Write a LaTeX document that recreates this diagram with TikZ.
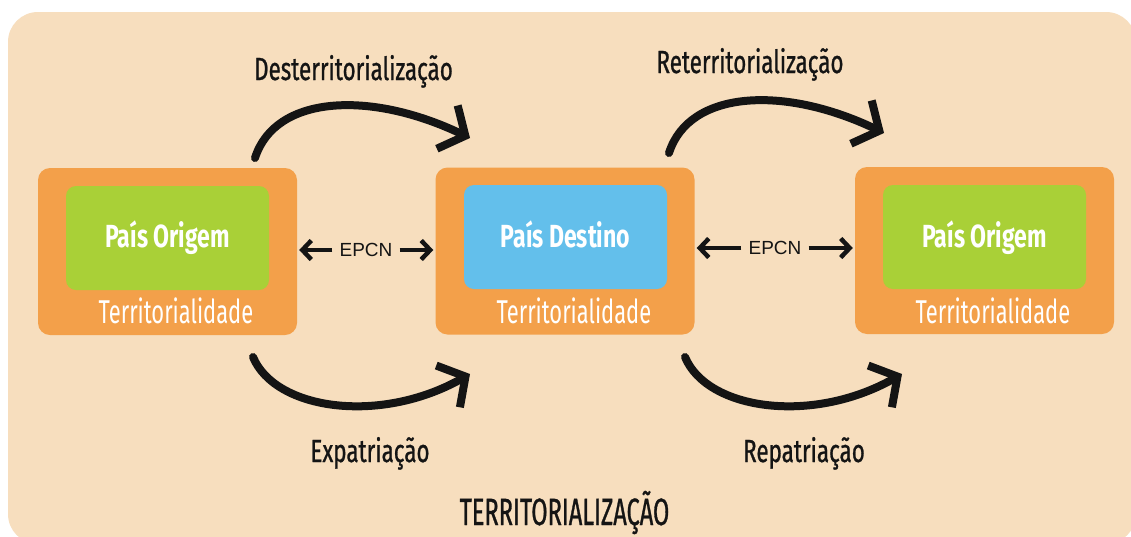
\documentclass[tikz,border=0pt]{standalone}
\usepackage{fontspec}
\setmainfont{Liberation Sans}
\newfontfamily\condC[FakeStretch=0.72]{Fira Sans}
\newfontfamily\condA[FakeStretch=0.70,FakeBold=0.8]{Fira Sans}
\newfontfamily\condT[FakeStretch=0.664]{Fira Sans}
\newfontfamily\condB[FakeStretch=0.62,FakeBold=0.8]{Fira Sans}
\usetikzlibrary{arrows.meta}
\definecolor{bgc}{RGB}{247,222,190}
\definecolor{org}{RGB}{243,160,74}
\definecolor{grn}{RGB}{169,208,55}
\definecolor{blu}{RGB}{99,191,235}
\definecolor{ink}{RGB}{20,20,20}
\begin{document}
\begin{tikzpicture}[x=1pt,y=-1pt,
 outerbox/.style={fill=org, rounded corners=12pt, minimum width=259pt, minimum height=167pt, inner sep=0pt},
 innerbox/.style={rounded corners=10pt, minimum width=203pt, minimum height=104pt, inner sep=0pt},
 title/.style={text=white, font=\condC\bfseries\fontsize{32}{32}\selectfont, anchor=base, inner sep=0pt},
 terr/.style={text=white, font=\condT\fontsize{33}{33}\selectfont, anchor=base, inner sep=0pt},
 lab/.style={text=ink, font=\condA\fontsize{32}{32}\selectfont, anchor=base, inner sep=0pt},
 epcn/.style={text=ink, font=\fontsize{19}{19}\selectfont, inner ysep=0pt, inner xsep=7pt},
 bigarrow/.style={ink, line width=8pt, line cap=round, -{Straight Barb[length=20pt,width=48pt,line width=8pt]}},
 smallarrow/.style={ink, line width=4.5pt, shorten >=2pt, -{Straight Barb[length=9pt,width=19pt,line width=4.5pt]}}
]
\useasboundingbox (0,0) rectangle (1131,536);
\fill[white] (0,0) rectangle (1131,536);
\fill[bgc, rounded corners=30pt] (8,12) rectangle (1136,544);

% boxes
\node[outerbox] (b1) at (167.5,251.5) {};
\node[innerbox, fill=grn] (i1) at (167.5,238) {};
\node[outerbox] (b2) at (565,251) {};
\node[innerbox, fill=blu] (i2) at (565.5,237) {};
\node[outerbox] (b3) at (984.5,250.5) {};
\node[innerbox, fill=grn] (i3) at (984.5,237) {};

\node[title] (t1) at (167.5,247) {País Origem};
\node[title] (t2) at (565.5,247) {País Destino};
\node[title] (t3) at (984.5,247) {País Origem};
\node[terr] (r1) at (176,323) {Territorialidade};
\node[terr] (r2) at (574,323) {Territorialidade};
\node[terr] (r3) at (993,323) {Territorialidade};

% EPCN
\node[epcn] (e1) at (366,250) {EPCN};
\node[epcn] (e2) at (775,248) {EPCN};
\draw[smallarrow] (e1.west) -- (b1.east |- e1.west);
\draw[smallarrow] (e1.east) -- (b2.west |- e1.east);
\draw[smallarrow] (e2.west) -- (b2.east |- e2.west);
\draw[smallarrow] (e2.east) -- (b3.west |- e2.east);

% curved arrows
\coordinate (s1) at (255,158);
\coordinate (d1) at (470,138);
\coordinate (s2) at (253,357);
\coordinate (d2) at (470,374);
\coordinate (s3) at (669,153);
\coordinate (d3) at (884,133);
\coordinate (s4) at (685,357);
\coordinate (d4) at (902,374);
\draw[bigarrow] (s1) .. controls (275,95) and (370,90) .. (d1);
\draw[bigarrow] (s2) .. controls (275,410) and (380,425) .. (d2);
\draw[bigarrow] (s3) .. controls (689,90) and (784,85) .. (d3);
\draw[bigarrow] (s4) .. controls (707,410) and (812,425) .. (d4);

% labels
\node[lab] (l1) at (353.5,80) {Desterritorialização};
\node[lab] (l2) at (750,73) {Reterritorialização};
\node[lab] (l3) at (370,462) {Expatriação};
\node[lab] (l4) at (804,462) {Repatriação};
\node[lab, font=\condB\fontsize{38}{38}\selectfont] (l5) at (564.5,525) {TERRITORIALIZAÇÃO};
\end{tikzpicture}
\end{document}
